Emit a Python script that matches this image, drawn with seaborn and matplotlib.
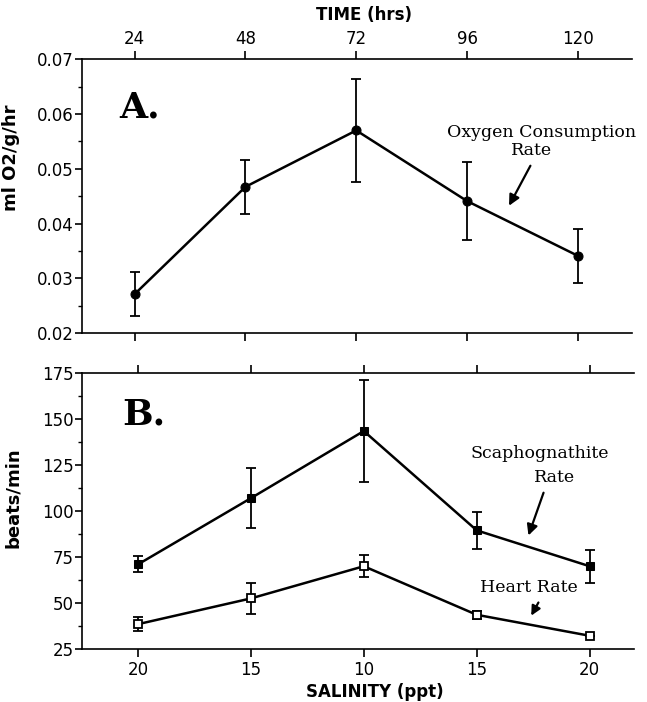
import numpy as np
import pandas as pd
import seaborn as sns
import matplotlib.pyplot as plt
from matplotlib.ticker import MultipleLocator

# sampling times (hrs) and the matching salinity labels (ppt)
hours = [24, 48, 72, 96, 120]
salinity_labels = ['20', '15', '10', '15', '20']

# panel A: oxygen consumption (ml O2/g/hr)
o2_rate = [0.0271, 0.0467, 0.0570, 0.0441, 0.0341]
o2_err = [0.0040, 0.0049, 0.0094, 0.0072, 0.0049]

# panel B: beats/min
scaph_rate = [71.0, 107.0, 143.5, 89.5, 70.0]
scaph_err = [4.3, 16.3, 27.5, 10.2, 9.0]
heart_rate = [38.5, 52.5, 70.0, 43.6, 32.2]
heart_err = [3.8, 8.3, 6.0, 2.1, 0.0]

sns.set_style('ticks')
plt.rcParams['font.family'] = ['DejaVu Sans']
# plain black ink everywhere, like the scanned original
plt.rcParams.update({'text.color': 'black', 'axes.labelcolor': 'black',
                     'xtick.color': 'black', 'ytick.color': 'black',
                     'axes.edgecolor': 'black'})

fig = plt.figure(figsize=(6.47, 7.02), dpi=100)
ax1 = fig.add_axes([0.1267, 0.5256, 0.850, 0.390])
ax2 = fig.add_axes([0.1267, 0.0755, 0.853, 0.393])

df_a = pd.DataFrame({'hours': hours, 'rate': o2_rate})
df_s = pd.DataFrame({'hours': hours, 'rate': scaph_rate})
df_h = pd.DataFrame({'hours': hours, 'rate': heart_rate})

# ---- panel A
ax1.errorbar(hours, o2_rate, yerr=o2_err, fmt='none', ecolor='black',
             elinewidth=1.3, capsize=3.5, capthick=1.3, zorder=2)
sns.lineplot(data=df_a, x='hours', y='rate', ax=ax1, color='black', lw=1.8,
             marker='o', markersize=6.5, markeredgecolor='black', zorder=3)

ax1.set_xlim(12.6, 131.7)
ax1.set_ylim(0.02, 0.07)
ax1.set_xticks(hours)
ax1.set_xticklabels([str(h) for h in hours])
ax1.yaxis.set_major_locator(MultipleLocator(0.01))
ax1.yaxis.set_minor_locator(MultipleLocator(0.005))
ax1.set_yticklabels([f'{v:.2f}' for v in ax1.get_yticks()])
ax1.tick_params(axis='x', top=True, labeltop=True, bottom=True, labelbottom=False,
                direction='out', length=6, width=1.2, labelsize=12, pad=2)
ax1.tick_params(axis='y', which='major', direction='out', length=5, width=1.2,
                labelsize=12, pad=1)
ax1.tick_params(axis='y', which='minor', direction='out', length=3, width=1.0)
ax1.xaxis.set_label_position('top')
ax1.set_xlabel('TIME (hrs)', fontsize=12, fontweight='bold', va='center')
ax1.xaxis.set_label_coords(0.513, 1.16)
ax1.set_ylabel('ml O2/g/hr', fontsize=13, fontweight='bold')
ax1.yaxis.set_label_coords(-0.113, 0.64)
ax1.spines['right'].set_visible(False)
ax1.spines['top'].set_visible(True)
for s in ['left', 'top', 'bottom']:
    ax1.spines[s].set_linewidth(1.2)

ax1.text(20.6, 0.0594, 'A.', fontsize=26, fontweight='bold', family='DejaVu Serif',
         va='baseline', ha='left')
ax1.text(112.2, 0.0567, 'Oxygen Consumption', fontsize=12.5, family='DejaVu Serif',
         ha='center', va='center', clip_on=False)
ax1.text(110.0, 0.0534, 'Rate', fontsize=12.5, family='DejaVu Serif',
         ha='center', va='center')
ax1.annotate('', xy=(104.8, 0.0428), xytext=(110.0, 0.0510),
             arrowprops=dict(arrowstyle='-|>', color='black', lw=1.6, mutation_scale=16))

# ---- panel B
ax2.errorbar(hours, scaph_rate, yerr=scaph_err, fmt='none', ecolor='black',
             elinewidth=1.3, capsize=3.5, capthick=1.3, zorder=2)
ax2.errorbar(hours, heart_rate, yerr=heart_err, fmt='none', ecolor='black',
             elinewidth=1.3, capsize=3.5, capthick=1.3, zorder=2)
sns.lineplot(data=df_s, x='hours', y='rate', ax=ax2, color='black', lw=1.8,
             marker='s', markersize=6, markeredgecolor='black', zorder=3)
sns.lineplot(data=df_h, x='hours', y='rate', ax=ax2, color='black', lw=1.8,
             marker='s', markersize=6, markerfacecolor='white',
             markeredgecolor='black', markeredgewidth=1.3, zorder=3)

ax2.set_xlim(12.1, 129.4)
ax2.set_ylim(25, 175)
ax2.set_xticks(hours)
ax2.set_xticklabels(salinity_labels)
ax2.yaxis.set_major_locator(MultipleLocator(25))
ax2.yaxis.set_minor_locator(MultipleLocator(12.5))
ax2.tick_params(axis='x', top=True, labeltop=False, bottom=True, labelbottom=True,
                direction='out', length=6, width=1.2, labelsize=12, pad=3)
ax2.tick_params(axis='y', which='major', direction='out', length=5, width=1.2,
                labelsize=12, pad=1)
ax2.tick_params(axis='y', which='minor', direction='out', length=3, width=1.0)
ax2.set_xlabel('SALINITY (ppt)', fontsize=12, fontweight='bold', va='center')
ax2.xaxis.set_label_coords(0.53, -0.155)
ax2.set_ylabel('beats/min', fontsize=13, fontweight='bold')
ax2.yaxis.set_label_coords(-0.109, 0.547)
ax2.spines['right'].set_visible(False)
ax2.spines['top'].set_visible(True)
for s in ['left', 'top', 'bottom']:
    ax2.spines[s].set_linewidth(1.2)

ax2.text(20.6, 147, 'B.', fontsize=26, fontweight='bold', family='DejaVu Serif',
         va='baseline', ha='left')
ax2.text(109.4, 131.5, 'Scaphognathite', fontsize=12.5, family='DejaVu Serif',
         ha='center', va='center')
ax2.text(112.6, 118.5, 'Rate', fontsize=12.5, family='DejaVu Serif',
         ha='center', va='center')
ax2.annotate('', xy=(106.8, 85.3), xytext=(110.4, 111.4),
             arrowprops=dict(arrowstyle='-|>', color='black', lw=1.6, mutation_scale=16))
ax2.text(107.0, 58.7, 'Heart Rate', fontsize=12.5, family='DejaVu Serif',
         ha='center', va='center')
ax2.annotate('', xy=(107.3, 41.8), xytext=(109.4, 51.6),
             arrowprops=dict(arrowstyle='-|>', color='black', lw=1.6, mutation_scale=14))

fig.savefig('out.png', dpi=100)
